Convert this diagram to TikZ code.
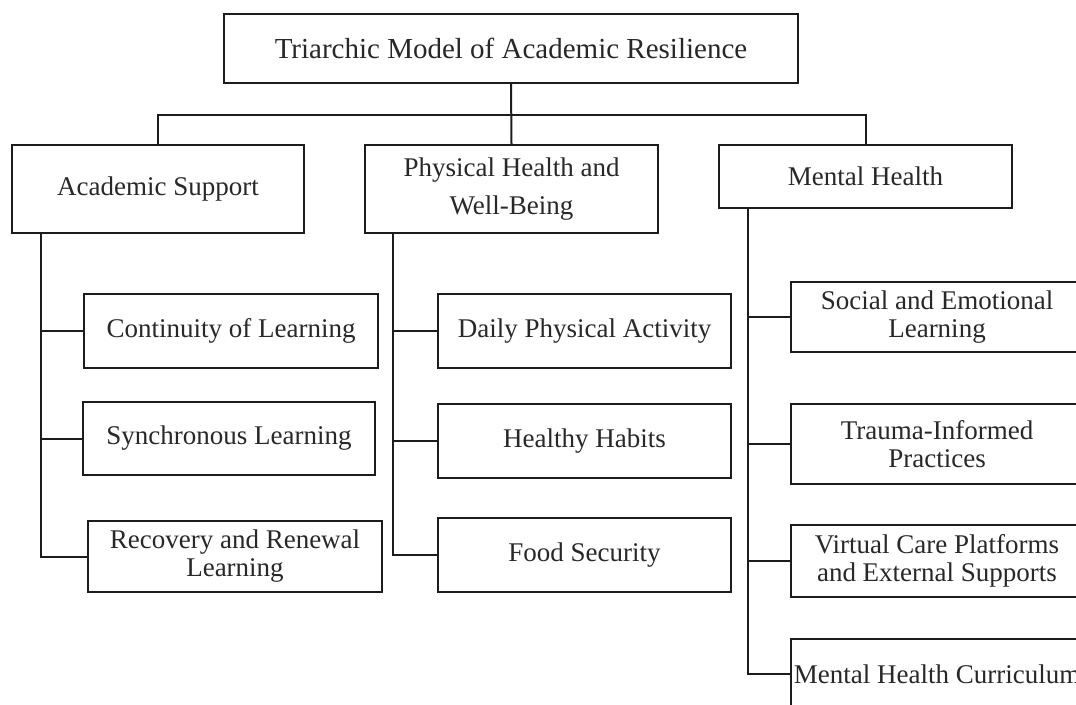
\documentclass[tikz,border=0pt]{standalone}
\usepackage{fontspec}
\setmainfont{Liberation Serif}
\definecolor{ink}{RGB}{28,28,28}
\definecolor{txt}{RGB}{40,40,40}
\begin{document}
\begin{tikzpicture}[x=1pt,y=-1pt,
  box/.style={draw=ink,line width=2.4pt,rectangle,inner sep=0pt,align=center,text=txt,
    font=\fontsize{27}{28}\selectfont},
  conn/.style={draw=ink,line width=2pt}]
\useasboundingbox (0,0) rectangle (1076,704);
\clip (0,0) rectangle (1076,704);
\fill[white] (0,0) rectangle (1076,704);
% top
\node[box,minimum width=574pt,minimum height=69pt,font=\fontsize{29}{30}\selectfont] (title) at (511,48.5) {Triarchic Model of Academic Resilience};
% level 1
\node[box,minimum width=292pt,minimum height=88pt] (acad) at (158,189) {Academic Support};
\node[box,minimum width=293pt,minimum height=88pt,font=\fontsize{27}{38}\selectfont] (phys) at (511.5,189) {Physical Health and\\Well-Being};
\node[box,minimum width=293pt,minimum height=63pt] (ment) at (865.5,176.5) {Mental Health};
% academic children
\node[box,minimum width=294pt,minimum height=74pt] (c1) at (231,331) {Continuity of Learning};
\node[box,minimum width=292pt,minimum height=73pt] (c2) at (229,438.5) {Synchronous Learning};
\node[box,minimum width=294pt,minimum height=71pt] (c3) at (235,556.5) {Recovery and Renewal\\Learning};
% physical children
\node[box,minimum width=293pt,minimum height=74pt] (d1) at (584.5,331) {Daily Physical Activity};
\node[box,minimum width=293pt,minimum height=74pt] (d2) at (584.5,441) {Healthy Habits};
\node[box,minimum width=293pt,minimum height=74pt] (d3) at (584.5,555) {Food Security};
% mental children
\node[box,minimum width=292pt,minimum height=70pt] (m1) at (937,317) {Social and Emotional\\Learning};
\node[box,minimum width=292pt,minimum height=80pt] (m2) at (937,444) {Trauma-Informed\\Practices};
\node[box,minimum width=292pt,minimum height=72pt] (m3) at (937,561) {Virtual Care Platforms\\and External Supports};
\node[box,minimum width=292pt,minimum height=70pt] (m4) at (937,674) {Mental Health Curriculum};
% top connectors
\coordinate (bus) at (511,115);
\draw[conn] (title.south) -- (phys.north);
\draw[conn] (acad.north) |- (bus) -| (ment.north);
% spines
\coordinate (as) at (41,233);
\coordinate (ps) at (393,233);
\coordinate (ms) at (748,208);
\draw[conn] (as) |- (c3.west);
\draw[conn] (c1.west) -- (c1.west -| as);
\draw[conn] (c2.west) -- (c2.west -| as);
\draw[conn] (ps) |- (d3.west);
\draw[conn] (d1.west) -- (d1.west -| ps);
\draw[conn] (d2.west) -- (d2.west -| ps);
\draw[conn] (ms) |- (m4.west);
\draw[conn] (m1.west) -- (m1.west -| ms);
\draw[conn] (m2.west) -- (m2.west -| ms);
\draw[conn] (m3.west) -- (m3.west -| ms);
\end{tikzpicture}
\end{document}
